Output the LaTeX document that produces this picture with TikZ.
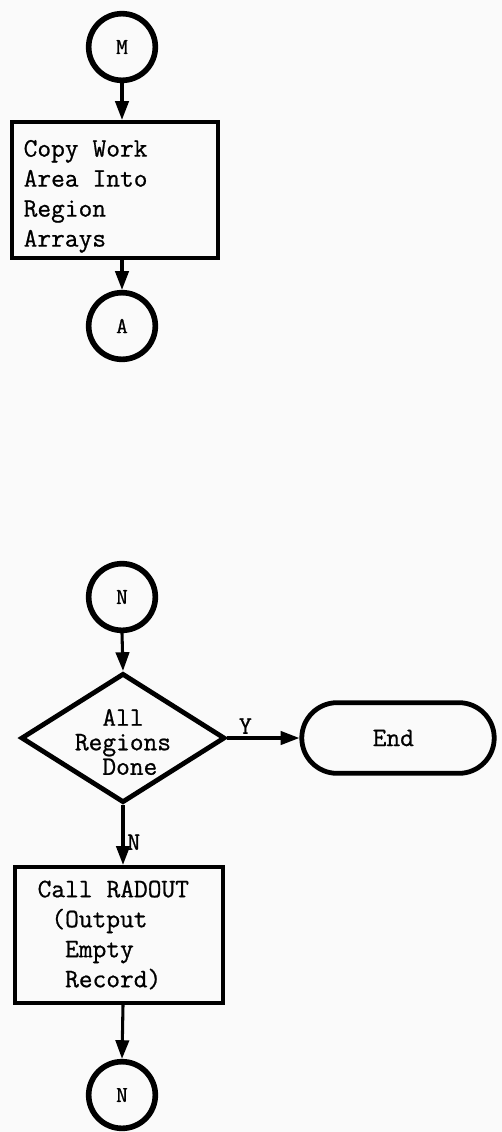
\documentclass[tikz,border=0pt]{standalone}
\usepackage{fontspec}
\setmonofont{Latin Modern Mono}[FakeBold=0.8]
\usetikzlibrary{shapes.geometric,shapes.misc,arrows.meta}

\newcommand\fullsp{\spaceskip=0.525em\relax}

\tikzset{every picture/.style={line width=0.75pt}}
\tikzset{
	conn/.style={circle,draw,line width=4.2pt,minimum size=50pt,inner sep=0pt,font=\ttfamily\fontsize{17}{17}\selectfont},
	procbox/.style={rectangle,draw,line width=3.2pt,minimum height=102pt,align=left,font=\ttfamily\fontsize{20}{22.5}\selectfont},
	decision/.style={diamond,draw,line width=3.6pt,minimum width=153pt,minimum height=97pt,inner sep=0pt},
	term/.style={rounded rectangle,draw,line width=3.6pt,minimum width=151pt,minimum height=53pt,font=\ttfamily\fontsize{20}{20}\selectfont},
	flow/.style={line width=2.3pt,-{Triangle[length=14pt,width=10pt]}},
	lbl/.style={font=\ttfamily\fontsize{19}{19}\selectfont,inner sep=2pt}
}

\begin{document}
\begin{tikzpicture}[x=0.75pt,y=0.75pt,yscale=-1,xscale=1]
	\useasboundingbox[fill=black!2] (0,0) rectangle (502,1132);

	%Connector M
	\node[conn] (m) at (122,47) {M};
	%Box: copy work area
	\node[procbox,inner xsep=9pt,text width=137pt] (copy) at (115,190) {\fullsp\rule{0pt}{1.1em}Copy Work\\Area Into\\Region\\Arrays};
	%Connector A
	\node[conn] (a) at (122,326) {A};

	%Connector N (entry)
	\node[conn] (nin) at (122,597) {N};
	%Decision
	\node[decision] (done) at (123,738) {};
	% Text Node
	\node[font=\ttfamily\fontsize{20}{18.4}\selectfont,align=left,yshift=-3pt] (donetext) at (done) {\phantom{xx}All\\Regions\\\phantom{xx}Done};
	%Terminator
	\node[term] (end) at (398,738) {\hspace*{-7pt}End};
	%Box: call radout
	\node[procbox,inner xsep=17pt,text width=122pt] (radout) at (119,935) {\fullsp Call RADOUT\\\phantom{x}(Output\\\phantom{xx}Empty\\\phantom{xx}Record)};
	%Connector N (exit)
	\node[conn] (nout) at (122,1095) {N};

	%Arrows
	\draw[flow] (m.south) -- (m.south |- copy.north);
	\draw[flow] (m.south |- copy.south) -- (a.north);
	\draw[flow] (nin.south) -- (done.north);
	\draw[flow] (done.east) -- node[lbl,pos=0.25,above] (ylab) {Y} (end.west);
	\draw[flow] (done.south) -- node[lbl,pos=0.62,right] (nlab) {N} (done.south |- radout.north);
	\draw[flow] (done.south |- radout.south) -- (nout.north);

\end{tikzpicture}
\end{document}
